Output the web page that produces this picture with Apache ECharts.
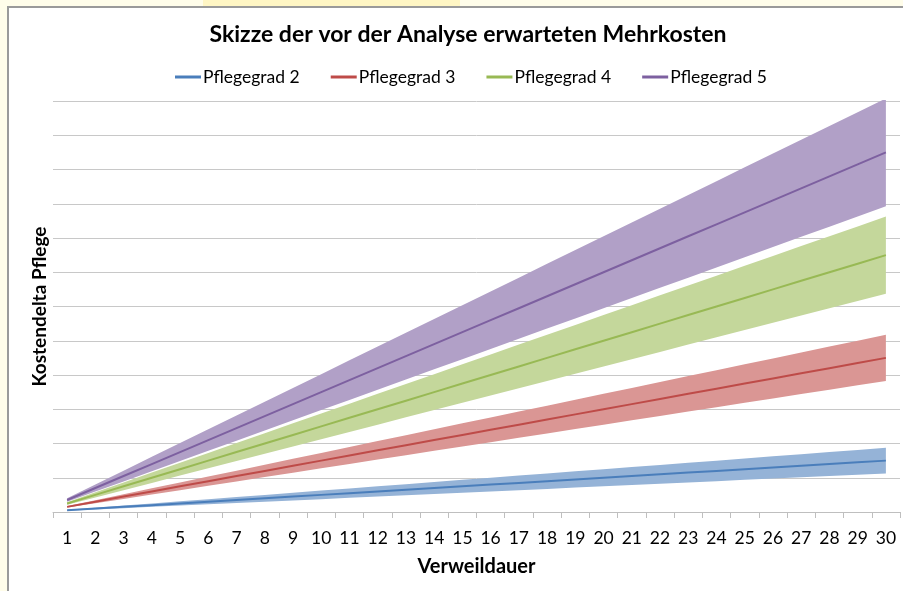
<!DOCTYPE html>
<html>
<head>
<meta charset="utf-8">
<script src="https://cdn.jsdelivr.net/npm/echarts@6/dist/echarts.min.js"></script>
<style>
  html, body { margin: 0; padding: 0; }
  body { width: 903px; height: 591px; background: #fffdea; position: relative; overflow: hidden; }
  #strip { position: absolute; left: 203px; top: 0; width: 257px; height: 6px; background: #fff6c4; }
  #frame { position: absolute; left: 7px; top: 6px; width: 900px; height: 590px; background: #fff;
           border-left: 2px solid #9a9a9a; border-top: 2px solid #9a9a9a; }
  #chart { position: absolute; left: 0; top: 0; width: 903px; height: 591px; }
</style>
</head>
<body>
<div id="strip"></div>
<div id="frame"></div>
<div id="chart"></div>
<script>
var days = ['1','2','3','4','5','6','7','8','9','10','11','12','13','14','15','16','17','18','19','20','21','22','23','24','25','26','27','28','29','30'];

var names = ['Pflegegrad 2', 'Pflegegrad 3', 'Pflegegrad 4', 'Pflegegrad 5'];

// mittlere Linie
var grad2 = [0.05,0.1,0.15,0.2,0.25,0.3,0.35,0.4,0.45,0.5,0.55,0.6,0.65,0.7,0.75,0.8,0.85,0.9,0.95,1.0,1.05,1.1,1.15,1.2,1.25,1.3,1.35,1.4,1.45,1.5];
var grad3 = [0.15,0.3,0.45,0.6,0.75,0.9,1.05,1.2,1.35,1.5,1.65,1.8,1.95,2.1,2.25,2.4,2.55,2.7,2.85,3.0,3.15,3.3,3.45,3.6,3.75,3.9,4.05,4.2,4.35,4.5];
var grad4 = [0.25,0.5,0.75,1.0,1.25,1.5,1.75,2.0,2.25,2.5,2.75,3.0,3.25,3.5,3.75,4.0,4.25,4.5,4.75,5.0,5.25,5.5,5.75,6.0,6.25,6.5,6.75,7.0,7.25,7.5];
var grad5 = [0.35,0.7,1.05,1.4,1.75,2.1,2.45,2.8,3.15,3.5,3.85,4.2,4.55,4.9,5.25,5.6,5.95,6.3,6.65,7.0,7.35,7.7,8.05,8.4,8.75,9.1,9.45,9.8,10.15,10.5];

// untere / obere Grenze der Bänder
var grad2Low  = [0.038,0.075,0.113,0.15,0.188,0.225,0.263,0.3,0.338,0.375,0.413,0.45,0.488,0.525,0.563,0.6,0.638,0.675,0.713,0.75,0.788,0.825,0.863,0.9,0.938,0.975,1.013,1.05,1.088,1.125];
var grad2High = [0.063,0.125,0.188,0.25,0.313,0.375,0.438,0.5,0.563,0.625,0.688,0.75,0.813,0.875,0.938,1.0,1.063,1.125,1.188,1.25,1.313,1.375,1.438,1.5,1.563,1.625,1.688,1.75,1.813,1.875];
var grad3Low  = [0.128,0.255,0.383,0.51,0.638,0.765,0.893,1.02,1.148,1.275,1.403,1.53,1.658,1.785,1.913,2.04,2.168,2.295,2.423,2.55,2.678,2.805,2.933,3.06,3.188,3.315,3.443,3.57,3.698,3.825];
var grad3High = [0.173,0.345,0.518,0.69,0.863,1.035,1.208,1.38,1.553,1.725,1.898,2.07,2.243,2.415,2.588,2.76,2.933,3.105,3.278,3.45,3.623,3.795,3.968,4.14,4.313,4.485,4.658,4.83,5.003,5.175];
var grad4Low  = [0.213,0.425,0.638,0.85,1.063,1.275,1.488,1.7,1.913,2.125,2.338,2.55,2.763,2.975,3.188,3.4,3.613,3.825,4.038,4.25,4.463,4.675,4.888,5.1,5.313,5.525,5.738,5.95,6.163,6.375];
var grad4High = [0.288,0.575,0.863,1.15,1.438,1.725,2.013,2.3,2.588,2.875,3.163,3.45,3.738,4.025,4.313,4.6,4.888,5.175,5.463,5.75,6.038,6.325,6.613,6.9,7.188,7.475,7.763,8.05,8.338,8.625];
var grad5Low  = [0.298,0.595,0.893,1.19,1.488,1.785,2.083,2.38,2.678,2.975,3.273,3.57,3.868,4.165,4.463,4.76,5.058,5.355,5.653,5.95,6.248,6.545,6.843,7.14,7.438,7.735,8.033,8.33,8.628,8.925];
var grad5High = [0.403,0.805,1.208,1.61,2.013,2.415,2.818,3.22,3.623,4.025,4.428,4.83,5.233,5.635,6.038,6.44,6.843,7.245,7.648,8.05,8.453,8.855,9.258,9.66,10.063,10.465,10.868,11.27,11.673,12.075];

var lineColors = ['#4a7ebb', '#be4b48', '#98b954', '#7d60a0'];
var bandColors = ['#95b3d7', '#da9694', '#c4d79b', '#b1a0c7'];

var mids  = [grad2, grad3, grad4, grad5];
var lows  = [grad2Low, grad3Low, grad4Low, grad5Low];
var highs = [grad2High, grad3High, grad4High, grad5High];

var chart = echarts.init(document.getElementById('chart'));

var series = [];
for (var k = 0; k < 4; k++) {
  series.push({
    name: 'low' + k,
    type: 'line',
    stack: 'band' + k,
    data: lows[k],
    symbol: 'none',
    silent: true,
    lineStyle: { opacity: 0 },
    areaStyle: { opacity: 0 }
  });
  series.push({
    name: 'band' + k,
    type: 'line',
    stack: 'band' + k,
    data: highs[k].map(function (v, i) { return +(v - lows[k][i]).toFixed(3); }),
    symbol: 'none',
    silent: true,
    lineStyle: { opacity: 0 },
    areaStyle: { color: bandColors[k], opacity: 1 }
  });
}
for (var k = 0; k < 4; k++) {
  series.push({
    name: names[k],
    type: 'line',
    data: mids[k],
    symbol: 'none',
    z: 5,
    itemStyle: { color: lineColors[k] },
    lineStyle: { color: lineColors[k], width: 2 }
  });
}

var font = 'Lato, "Open Sans", sans-serif';

var option = {
  backgroundColor: 'transparent',
  animation: false,
  title: {
    text: 'Skizze der vor der Analyse erwarteten Mehrkosten',
    left: 463,
    textAlign: 'center',
    top: 18,
    textStyle: { fontFamily: font, fontSize: 23, fontWeight: 'bold', color: '#000' }
  },
  legend: {
    data: names,
    left: 170,
    top: 63,
    itemWidth: 26,
    itemHeight: 3,
    itemGap: 31,
    icon: 'rect',
    textStyle: { fontFamily: font, fontSize: 17.5, color: '#000', padding: [0, 0, 0, -3] }
  },
  grid: { left: 53, right: 3, top: 101, bottom: 79 },
  xAxis: {
    type: 'category',
    data: days,
    boundaryGap: true,
    name: 'Verweildauer',
    nameLocation: 'middle',
    nameGap: 45,
    nameTextStyle: { fontFamily: font, fontSize: 20, fontWeight: 'bold', color: '#000' },
    axisLine: { lineStyle: { color: '#bfbfbf', width: 1 } },
    axisTick: { show: true, length: 6, lineStyle: { color: '#bfbfbf' } },
    axisLabel: { fontFamily: font, fontSize: 17.5, color: '#000', margin: 17, interval: 0 },
    splitLine: { show: false }
  },
  yAxis: {
    type: 'value',
    min: 0,
    max: 12,
    interval: 1,
    name: 'Kostendelta Pflege',
    nameLocation: 'middle',
    nameGap: 4,
    nameTextStyle: { fontFamily: font, fontSize: 19, fontWeight: 'bold', color: '#000' },
    axisLine: { show: false },
    axisTick: { show: false },
    axisLabel: { show: false },
    splitLine: { lineStyle: { color: '#c8c8c8', width: 1 } }
  },
  series: series
};

chart.setOption(option);
</script>
</body>
</html>
